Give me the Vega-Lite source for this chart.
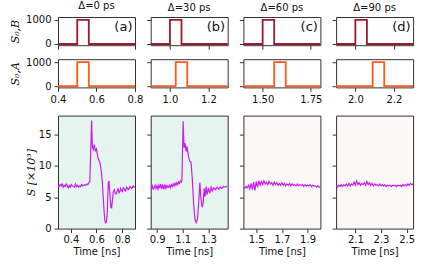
{
"$schema": "https://vega.github.io/schema/vega-lite/v6.json",
"padding": {"left": 9, "top": 0, "right": 2, "bottom": 2},
"config": {
 "font": "DejaVu Sans",
 "view": {"stroke": "#333333", "strokeWidth": 1},
 "axis": {"domain": false, "grid": false, "tickColor": "#333333", "tickSize": 4, "tickWidth": 1, "labelFontSize": 10, "labelColor": "#111111", "labelPadding": 3, "labelFlush": false, "titleFontSize": 10, "titleFontWeight": "normal", "titleColor": "#111111"},
 "title": {"fontSize": 10, "fontWeight": "normal", "offset": 4, "color": "#111111", "anchor": "middle"}
},
"datasets": {
 "pulse": [
  {"p":"a","ch":"B","t":0.3,"v":0},{"p":"a","ch":"B","t":0.5,"v":1000},{"p":"a","ch":"B","t":0.56,"v":0},{"p":"a","ch":"B","t":0.9,"v":0},
  {"p":"a","ch":"A","t":0.3,"v":0},{"p":"a","ch":"A","t":0.5,"v":1000},{"p":"a","ch":"A","t":0.56,"v":0},{"p":"a","ch":"A","t":0.9,"v":0},
  {"p":"b","ch":"B","t":0.8,"v":0},{"p":"b","ch":"B","t":1.0,"v":1000},{"p":"b","ch":"B","t":1.06,"v":0},{"p":"b","ch":"B","t":1.4,"v":0},
  {"p":"b","ch":"A","t":0.8,"v":0},{"p":"b","ch":"A","t":1.03,"v":1000},{"p":"b","ch":"A","t":1.09,"v":0},{"p":"b","ch":"A","t":1.4,"v":0},
  {"p":"c","ch":"B","t":1.3,"v":0},{"p":"c","ch":"B","t":1.5,"v":1000},{"p":"c","ch":"B","t":1.56,"v":0},{"p":"c","ch":"B","t":1.9,"v":0},
  {"p":"c","ch":"A","t":1.3,"v":0},{"p":"c","ch":"A","t":1.56,"v":1000},{"p":"c","ch":"A","t":1.62,"v":0},{"p":"c","ch":"A","t":1.9,"v":0},
  {"p":"d","ch":"B","t":1.8,"v":0},{"p":"d","ch":"B","t":2.0,"v":1000},{"p":"d","ch":"B","t":2.06,"v":0},{"p":"d","ch":"B","t":2.4,"v":0},
  {"p":"d","ch":"A","t":1.8,"v":0},{"p":"d","ch":"A","t":2.09,"v":1000},{"p":"d","ch":"A","t":2.15,"v":0},{"p":"d","ch":"A","t":2.4,"v":0}
 ],
 "sig": [
  {"p":"a","t":0.300,"v":6.9},{"p":"a","t":0.308,"v":6.7},{"p":"a","t":0.316,"v":7.0},{"p":"a","t":0.324,"v":6.8},{"p":"a","t":0.332,"v":7.1},{"p":"a","t":0.340,"v":6.6},{"p":"a","t":0.348,"v":6.9},{"p":"a","t":0.356,"v":6.7},{"p":"a","t":0.364,"v":7.1},{"p":"a","t":0.372,"v":6.8},{"p":"a","t":0.380,"v":6.5},{"p":"a","t":0.388,"v":6.9},{"p":"a","t":0.396,"v":6.6},{"p":"a","t":0.404,"v":7.0},{"p":"a","t":0.412,"v":6.8},{"p":"a","t":0.420,"v":6.7},{"p":"a","t":0.428,"v":6.6},{"p":"a","t":0.436,"v":7.1},{"p":"a","t":0.444,"v":6.7},{"p":"a","t":0.452,"v":6.9},{"p":"a","t":0.460,"v":6.6},{"p":"a","t":0.468,"v":6.8},{"p":"a","t":0.476,"v":6.7},{"p":"a","t":0.484,"v":7.0},{"p":"a","t":0.492,"v":6.8},{"p":"a","t":0.500,"v":6.9},{"p":"a","t":0.508,"v":7.0},{"p":"a","t":0.516,"v":6.9},{"p":"a","t":0.524,"v":7.1},{"p":"a","t":0.532,"v":7.0},{"p":"a","t":0.540,"v":7.3},{"p":"a","t":0.548,"v":7.5},{"p":"a","t":0.562,"v":17.2},{"p":"a","t":0.568,"v":13.0},{"p":"a","t":0.575,"v":12.6},{"p":"a","t":0.583,"v":13.4},{"p":"a","t":0.591,"v":12.4},{"p":"a","t":0.599,"v":12.7},{"p":"a","t":0.612,"v":11.2},{"p":"a","t":0.625,"v":10.6},{"p":"a","t":0.632,"v":9.9},{"p":"a","t":0.640,"v":8.7},{"p":"a","t":0.645,"v":7.5},{"p":"a","t":0.653,"v":4.8},{"p":"a","t":0.660,"v":2.5},{"p":"a","t":0.666,"v":1.2},{"p":"a","t":0.671,"v":0.95},{"p":"a","t":0.678,"v":1.1},{"p":"a","t":0.684,"v":2.7},{"p":"a","t":0.692,"v":7.3},{"p":"a","t":0.697,"v":7.6},{"p":"a","t":0.705,"v":5.4},{"p":"a","t":0.712,"v":3.4},{"p":"a","t":0.718,"v":3.3},{"p":"a","t":0.724,"v":4.5},{"p":"a","t":0.731,"v":5.9},{"p":"a","t":0.739,"v":6.2},{"p":"a","t":0.745,"v":5.7},{"p":"a","t":0.752,"v":5.5},{"p":"a","t":0.760,"v":5.9},{"p":"a","t":0.768,"v":6.3},{"p":"a","t":0.775,"v":5.7},{"p":"a","t":0.782,"v":6.0},{"p":"a","t":0.788,"v":6.4},{"p":"a","t":0.795,"v":6.0},{"p":"a","t":0.801,"v":5.9},{"p":"a","t":0.808,"v":6.5},{"p":"a","t":0.814,"v":6.4},{"p":"a","t":0.821,"v":6.1},{"p":"a","t":0.827,"v":6.0},{"p":"a","t":0.834,"v":6.6},{"p":"a","t":0.840,"v":6.5},{"p":"a","t":0.847,"v":6.2},{"p":"a","t":0.853,"v":6.3},{"p":"a","t":0.860,"v":6.7},{"p":"a","t":0.866,"v":6.6},{"p":"a","t":0.873,"v":6.4},{"p":"a","t":0.879,"v":6.5},{"p":"a","t":0.886,"v":6.8},{"p":"a","t":0.893,"v":6.6},{"p":"a","t":0.900,"v":6.7},
  {"p":"b","t":0.850,"v":6.6},{"p":"b","t":0.857,"v":6.3},{"p":"b","t":0.864,"v":6.8},{"p":"b","t":0.871,"v":6.3},{"p":"b","t":0.878,"v":6.5},{"p":"b","t":0.885,"v":6.9},{"p":"b","t":0.892,"v":6.4},{"p":"b","t":0.899,"v":6.8},{"p":"b","t":0.906,"v":6.3},{"p":"b","t":0.913,"v":6.9},{"p":"b","t":0.920,"v":6.4},{"p":"b","t":0.927,"v":7.1},{"p":"b","t":0.934,"v":6.5},{"p":"b","t":0.941,"v":6.9},{"p":"b","t":0.948,"v":6.3},{"p":"b","t":0.955,"v":7.0},{"p":"b","t":0.962,"v":6.4},{"p":"b","t":0.969,"v":6.9},{"p":"b","t":0.976,"v":6.5},{"p":"b","t":0.983,"v":6.8},{"p":"b","t":0.990,"v":6.6},{"p":"b","t":0.997,"v":6.9},{"p":"b","t":1.004,"v":6.5},{"p":"b","t":1.011,"v":7.0},{"p":"b","t":1.018,"v":6.7},{"p":"b","t":1.025,"v":7.1},{"p":"b","t":1.032,"v":6.8},{"p":"b","t":1.039,"v":7.2},{"p":"b","t":1.046,"v":6.9},{"p":"b","t":1.053,"v":7.3},{"p":"b","t":1.060,"v":7.0},{"p":"b","t":1.067,"v":7.4},{"p":"b","t":1.074,"v":7.2},{"p":"b","t":1.081,"v":7.6},{"p":"b","t":1.088,"v":7.4},{"p":"b","t":1.093,"v":7.6},{"p":"b","t":1.1026,"v":17.1},{"p":"b","t":1.110,"v":12.9},{"p":"b","t":1.118,"v":13.6},{"p":"b","t":1.126,"v":12.3},{"p":"b","t":1.133,"v":13.1},{"p":"b","t":1.144,"v":11.5},{"p":"b","t":1.154,"v":10.7},{"p":"b","t":1.164,"v":10.6},{"p":"b","t":1.174,"v":8.0},{"p":"b","t":1.185,"v":3.8},{"p":"b","t":1.195,"v":1.4},{"p":"b","t":1.205,"v":0.95},{"p":"b","t":1.215,"v":1.6},{"p":"b","t":1.226,"v":4.8},{"p":"b","t":1.233,"v":7.35},{"p":"b","t":1.241,"v":4.9},{"p":"b","t":1.251,"v":3.4},{"p":"b","t":1.259,"v":4.1},{"p":"b","t":1.267,"v":6.4},{"p":"b","t":1.274,"v":5.1},{"p":"b","t":1.282,"v":6.7},{"p":"b","t":1.290,"v":5.4},{"p":"b","t":1.300,"v":6.5},{"p":"b","t":1.310,"v":5.6},{"p":"b","t":1.321,"v":6.6},{"p":"b","t":1.331,"v":6.0},{"p":"b","t":1.341,"v":6.5},{"p":"b","t":1.354,"v":6.2},{"p":"b","t":1.367,"v":6.6},{"p":"b","t":1.379,"v":6.3},{"p":"b","t":1.392,"v":6.6},{"p":"b","t":1.405,"v":6.4},{"p":"b","t":1.418,"v":6.7},{"p":"b","t":1.431,"v":6.6},{"p":"b","t":1.444,"v":6.8},
  {"p":"c","t":1.40,"v":6.6},{"p":"c","t":1.41,"v":6.4},{"p":"c","t":1.42,"v":6.7},{"p":"c","t":1.43,"v":6.5},{"p":"c","t":1.44,"v":6.9},{"p":"c","t":1.45,"v":6.3},{"p":"c","t":1.46,"v":7.2},{"p":"c","t":1.47,"v":6.2},{"p":"c","t":1.48,"v":7.4},{"p":"c","t":1.49,"v":6.1},{"p":"c","t":1.50,"v":7.5},{"p":"c","t":1.51,"v":6.6},{"p":"c","t":1.52,"v":7.6},{"p":"c","t":1.53,"v":6.9},{"p":"c","t":1.54,"v":7.5},{"p":"c","t":1.55,"v":7.0},{"p":"c","t":1.56,"v":7.6},{"p":"c","t":1.57,"v":7.1},{"p":"c","t":1.58,"v":7.4},{"p":"c","t":1.59,"v":7.0},{"p":"c","t":1.60,"v":7.5},{"p":"c","t":1.61,"v":7.1},{"p":"c","t":1.62,"v":7.3},{"p":"c","t":1.63,"v":6.9},{"p":"c","t":1.64,"v":7.4},{"p":"c","t":1.65,"v":7.0},{"p":"c","t":1.66,"v":7.3},{"p":"c","t":1.67,"v":6.9},{"p":"c","t":1.68,"v":7.2},{"p":"c","t":1.69,"v":6.9},{"p":"c","t":1.70,"v":7.3},{"p":"c","t":1.71,"v":6.9},{"p":"c","t":1.72,"v":7.2},{"p":"c","t":1.73,"v":6.8},{"p":"c","t":1.74,"v":7.1},{"p":"c","t":1.75,"v":6.9},{"p":"c","t":1.76,"v":7.2},{"p":"c","t":1.77,"v":6.8},{"p":"c","t":1.78,"v":7.1},{"p":"c","t":1.79,"v":6.9},{"p":"c","t":1.80,"v":7.0},{"p":"c","t":1.81,"v":6.8},{"p":"c","t":1.82,"v":7.1},{"p":"c","t":1.83,"v":6.8},{"p":"c","t":1.84,"v":7.0},{"p":"c","t":1.85,"v":6.9},{"p":"c","t":1.86,"v":7.0},{"p":"c","t":1.87,"v":6.7},{"p":"c","t":1.88,"v":7.0},{"p":"c","t":1.89,"v":6.8},{"p":"c","t":1.90,"v":6.9},{"p":"c","t":1.91,"v":6.8},{"p":"c","t":1.92,"v":7.0},{"p":"c","t":1.93,"v":6.7},{"p":"c","t":1.94,"v":6.9},{"p":"c","t":1.95,"v":6.8},{"p":"c","t":1.96,"v":6.8},{"p":"c","t":1.97,"v":6.6},{"p":"c","t":1.98,"v":6.8},{"p":"c","t":1.99,"v":6.6},{"p":"c","t":2.00,"v":6.7},
  {"p":"d","t":1.95,"v":6.8},{"p":"d","t":1.96,"v":6.6},{"p":"d","t":1.97,"v":6.9},{"p":"d","t":1.98,"v":6.7},{"p":"d","t":1.99,"v":7.0},{"p":"d","t":2.00,"v":6.7},{"p":"d","t":2.01,"v":7.0},{"p":"d","t":2.02,"v":6.8},{"p":"d","t":2.03,"v":7.1},{"p":"d","t":2.04,"v":6.8},{"p":"d","t":2.05,"v":7.2},{"p":"d","t":2.06,"v":6.8},{"p":"d","t":2.07,"v":7.1},{"p":"d","t":2.08,"v":6.9},{"p":"d","t":2.09,"v":7.4},{"p":"d","t":2.10,"v":6.9},{"p":"d","t":2.11,"v":7.6},{"p":"d","t":2.12,"v":7.0},{"p":"d","t":2.13,"v":7.3},{"p":"d","t":2.14,"v":6.9},{"p":"d","t":2.15,"v":7.2},{"p":"d","t":2.16,"v":7.0},{"p":"d","t":2.17,"v":7.3},{"p":"d","t":2.18,"v":6.9},{"p":"d","t":2.19,"v":7.5},{"p":"d","t":2.20,"v":7.0},{"p":"d","t":2.21,"v":7.3},{"p":"d","t":2.22,"v":6.9},{"p":"d","t":2.23,"v":7.2},{"p":"d","t":2.24,"v":6.8},{"p":"d","t":2.25,"v":7.1},{"p":"d","t":2.26,"v":6.9},{"p":"d","t":2.27,"v":7.0},{"p":"d","t":2.28,"v":6.8},{"p":"d","t":2.29,"v":7.1},{"p":"d","t":2.30,"v":6.8},{"p":"d","t":2.31,"v":7.0},{"p":"d","t":2.32,"v":6.8},{"p":"d","t":2.33,"v":7.0},{"p":"d","t":2.34,"v":6.7},{"p":"d","t":2.35,"v":6.9},{"p":"d","t":2.36,"v":6.8},{"p":"d","t":2.37,"v":6.9},{"p":"d","t":2.38,"v":6.7},{"p":"d","t":2.39,"v":6.9},{"p":"d","t":2.40,"v":6.8},{"p":"d","t":2.41,"v":6.9},{"p":"d","t":2.42,"v":6.7},{"p":"d","t":2.43,"v":6.9},{"p":"d","t":2.44,"v":6.8},{"p":"d","t":2.45,"v":6.9},{"p":"d","t":2.46,"v":6.7},{"p":"d","t":2.47,"v":7.0},{"p":"d","t":2.48,"v":6.8},{"p":"d","t":2.49,"v":7.0},{"p":"d","t":2.50,"v":6.8},{"p":"d","t":2.51,"v":7.1},{"p":"d","t":2.52,"v":6.9},{"p":"d","t":2.53,"v":7.2},{"p":"d","t":2.54,"v":7.0},{"p":"d","t":2.55,"v":7.1}
 ]
},
"columns": 4,
"bounds": "flush",
"align": "each",
"spacing": {"row": 13.2, "column": 15.7},
"concat": [
 {"width": 77, "height": 28.2, "title": "Δ=0 ps", "layer": [
  {"data": {"name": "pulse"}, "transform": [{"filter": "datum.p == 'a' && datum.ch == 'B'"}],
   "mark": {"type": "line", "interpolate": "step-after", "color": "#a0172f", "strokeWidth": 1.8, "clip": true},
   "encoding": {"x": {"field": "t", "type": "quantitative", "scale": {"domain": [0.4, 0.8], "nice": false, "zero": false}, "axis": {"values": [0.4, 0.6, 0.8], "labels": false, "title": null}},
    "y": {"field": "v", "type": "quantitative", "scale": {"domain": [-50, 1120], "nice": false, "zero": false}, "axis": {"values": [0, 1000], "format": "d", "title": "S₀,B", "titleFont": "DejaVu Serif", "titleFontStyle": "italic", "titleFontSize": 11, "titlePadding": 5}}}},
  {"data": {"values": [{"label": "(a)"}]}, "mark": {"type": "text", "align": "right", "baseline": "middle", "fontSize": 13, "color": "#111111"},
   "encoding": {"text": {"field": "label"}, "x": {"datum": 0.787}, "y": {"datum": 700}}}]},
 {"width": 77, "height": 28.2, "title": "Δ=30 ps", "layer": [
  {"data": {"name": "pulse"}, "transform": [{"filter": "datum.p == 'b' && datum.ch == 'B'"}],
   "mark": {"type": "line", "interpolate": "step-after", "color": "#a0172f", "strokeWidth": 1.8, "clip": true},
   "encoding": {"x": {"field": "t", "type": "quantitative", "scale": {"domain": [0.9, 1.3], "nice": false, "zero": false}, "axis": {"values": [1.0, 1.2], "labels": false, "title": null}},
    "y": {"field": "v", "type": "quantitative", "scale": {"domain": [-50, 1120], "nice": false, "zero": false}, "axis": {"values": [0, 1000], "labels": false, "title": null}}}},
  {"data": {"values": [{"label": "(b)"}]}, "mark": {"type": "text", "align": "right", "baseline": "middle", "fontSize": 13, "color": "#111111"},
   "encoding": {"text": {"field": "label"}, "x": {"datum": 1.287}, "y": {"datum": 700}}}]},
 {"width": 77, "height": 28.2, "title": "Δ=60 ps", "layer": [
  {"data": {"name": "pulse"}, "transform": [{"filter": "datum.p == 'c' && datum.ch == 'B'"}],
   "mark": {"type": "line", "interpolate": "step-after", "color": "#a0172f", "strokeWidth": 1.8, "clip": true},
   "encoding": {"x": {"field": "t", "type": "quantitative", "scale": {"domain": [1.4, 1.8], "nice": false, "zero": false}, "axis": {"values": [1.5, 1.75], "labels": false, "title": null}},
    "y": {"field": "v", "type": "quantitative", "scale": {"domain": [-50, 1120], "nice": false, "zero": false}, "axis": {"values": [0, 1000], "labels": false, "title": null}}}},
  {"data": {"values": [{"label": "(c)"}]}, "mark": {"type": "text", "align": "right", "baseline": "middle", "fontSize": 13, "color": "#111111"},
   "encoding": {"text": {"field": "label"}, "x": {"datum": 1.787}, "y": {"datum": 700}}}]},
 {"width": 77, "height": 28.2, "title": "Δ=90 ps", "layer": [
  {"data": {"name": "pulse"}, "transform": [{"filter": "datum.p == 'd' && datum.ch == 'B'"}],
   "mark": {"type": "line", "interpolate": "step-after", "color": "#a0172f", "strokeWidth": 1.8, "clip": true},
   "encoding": {"x": {"field": "t", "type": "quantitative", "scale": {"domain": [1.9, 2.3], "nice": false, "zero": false}, "axis": {"values": [2.0, 2.2], "labels": false, "title": null}},
    "y": {"field": "v", "type": "quantitative", "scale": {"domain": [-50, 1120], "nice": false, "zero": false}, "axis": {"values": [0, 1000], "labels": false, "title": null}}}},
  {"data": {"values": [{"label": "(d)"}]}, "mark": {"type": "text", "align": "right", "baseline": "middle", "fontSize": 13, "color": "#111111"},
   "encoding": {"text": {"field": "label"}, "x": {"datum": 2.287}, "y": {"datum": 700}}}]},

 {"width": 77, "height": 28.2, "data": {"name": "pulse"}, "transform": [{"filter": "datum.p == 'a' && datum.ch == 'A'"}],
  "mark": {"type": "line", "interpolate": "step-after", "color": "#ff5a1a", "strokeWidth": 1.8, "clip": true},
  "encoding": {"x": {"field": "t", "type": "quantitative", "scale": {"domain": [0.4, 0.8], "nice": false, "zero": false}, "axis": {"values": [0.4, 0.6, 0.8], "format": ".1f", "title": null}},
   "y": {"field": "v", "type": "quantitative", "scale": {"domain": [-50, 1120], "nice": false, "zero": false}, "axis": {"values": [0, 1000], "format": "d", "title": "S₀,A", "titleFont": "DejaVu Serif", "titleFontStyle": "italic", "titleFontSize": 11, "titlePadding": 5}}}},
 {"width": 77, "height": 28.2, "data": {"name": "pulse"}, "transform": [{"filter": "datum.p == 'b' && datum.ch == 'A'"}],
  "mark": {"type": "line", "interpolate": "step-after", "color": "#ff5a1a", "strokeWidth": 1.8, "clip": true},
  "encoding": {"x": {"field": "t", "type": "quantitative", "scale": {"domain": [0.9, 1.3], "nice": false, "zero": false}, "axis": {"values": [1.0, 1.2], "format": ".1f", "title": null}},
   "y": {"field": "v", "type": "quantitative", "scale": {"domain": [-50, 1120], "nice": false, "zero": false}, "axis": {"values": [0, 1000], "labels": false, "title": null}}}},
 {"width": 77, "height": 28.2, "data": {"name": "pulse"}, "transform": [{"filter": "datum.p == 'c' && datum.ch == 'A'"}],
  "mark": {"type": "line", "interpolate": "step-after", "color": "#ff5a1a", "strokeWidth": 1.8, "clip": true},
  "encoding": {"x": {"field": "t", "type": "quantitative", "scale": {"domain": [1.4, 1.8], "nice": false, "zero": false}, "axis": {"values": [1.5, 1.75], "format": ".2f", "title": null}},
   "y": {"field": "v", "type": "quantitative", "scale": {"domain": [-50, 1120], "nice": false, "zero": false}, "axis": {"values": [0, 1000], "labels": false, "title": null}}}},
 {"width": 77, "height": 28.2, "data": {"name": "pulse"}, "transform": [{"filter": "datum.p == 'd' && datum.ch == 'A'"}],
  "mark": {"type": "line", "interpolate": "step-after", "color": "#ff5a1a", "strokeWidth": 1.8, "clip": true},
  "encoding": {"x": {"field": "t", "type": "quantitative", "scale": {"domain": [1.9, 2.3], "nice": false, "zero": false}, "axis": {"values": [2.0, 2.2], "format": ".1f", "title": null}},
   "y": {"field": "v", "type": "quantitative", "scale": {"domain": [-50, 1120], "nice": false, "zero": false}, "axis": {"values": [0, 1000], "labels": false, "title": null}}}},

 {"width": 77, "height": 0.6, "view": {"stroke": null, "fill": null}, "data": {"values": []}, "mark": "point", "encoding": {}},
 {"width": 77, "height": 0.6, "view": {"stroke": null, "fill": null}, "data": {"values": []}, "mark": "point", "encoding": {}},
 {"width": 77, "height": 0.6, "view": {"stroke": null, "fill": null}, "data": {"values": []}, "mark": "point", "encoding": {}},
 {"width": 77, "height": 0.6, "view": {"stroke": null, "fill": null}, "data": {"values": []}, "mark": "point", "encoding": {}},

 {"width": 77, "height": 113, "view": {"fill": "#e6f4ef"}, "data": {"name": "sig"}, "transform": [{"filter": "datum.p == 'a'"}],
  "mark": {"type": "line", "color": "#c81ef0", "strokeWidth": 1.2, "clip": true},
  "encoding": {"x": {"field": "t", "type": "quantitative", "scale": {"domain": [0.3, 0.9], "nice": false, "zero": false}, "axis": {"values": [0.4, 0.6, 0.8], "format": ".1f", "title": "Time [ns]", "titlePadding": 2, "labelPadding": 1.5}},
   "y": {"field": "v", "type": "quantitative", "scale": {"domain": [0, 18], "nice": false}, "axis": {"values": [0, 5, 10, 15], "title": "S [×10³]", "titleFont": "DejaVu Serif", "titleFontStyle": "italic", "titleFontSize": 11, "titlePadding": 2}}}},
 {"width": 77, "height": 113, "view": {"fill": "#e6f4ef"}, "data": {"name": "sig"}, "transform": [{"filter": "datum.p == 'b'"}],
  "mark": {"type": "line", "color": "#c81ef0", "strokeWidth": 1.2, "clip": true},
  "encoding": {"x": {"field": "t", "type": "quantitative", "scale": {"domain": [0.85, 1.45], "nice": false, "zero": false}, "axis": {"values": [0.9, 1.1, 1.3], "format": ".1f", "title": "Time [ns]", "titlePadding": 2, "labelPadding": 1.5}},
   "y": {"field": "v", "type": "quantitative", "scale": {"domain": [0, 18], "nice": false}, "axis": {"values": [0, 5, 10, 15], "labels": false, "title": null}}}},
 {"width": 77, "height": 113, "view": {"fill": "#fbf9f7"}, "data": {"name": "sig"}, "transform": [{"filter": "datum.p == 'c'"}],
  "mark": {"type": "line", "color": "#c81ef0", "strokeWidth": 1.2, "clip": true},
  "encoding": {"x": {"field": "t", "type": "quantitative", "scale": {"domain": [1.4, 2.0], "nice": false, "zero": false}, "axis": {"values": [1.5, 1.7, 1.9], "format": ".1f", "title": "Time [ns]", "titlePadding": 2, "labelPadding": 1.5}},
   "y": {"field": "v", "type": "quantitative", "scale": {"domain": [0, 18], "nice": false}, "axis": {"values": [0, 5, 10, 15], "labels": false, "title": null}}}},
 {"width": 77, "height": 113, "view": {"fill": "#fbf9f7"}, "data": {"name": "sig"}, "transform": [{"filter": "datum.p == 'd'"}],
  "mark": {"type": "line", "color": "#c81ef0", "strokeWidth": 1.2, "clip": true},
  "encoding": {"x": {"field": "t", "type": "quantitative", "scale": {"domain": [1.95, 2.55], "nice": false, "zero": false}, "axis": {"values": [2.1, 2.3, 2.5], "format": ".1f", "title": "Time [ns]", "titlePadding": 2, "labelPadding": 1.5}},
   "y": {"field": "v", "type": "quantitative", "scale": {"domain": [0, 18], "nice": false}, "axis": {"values": [0, 5, 10, 15], "labels": false, "title": null}}}}
]
}
